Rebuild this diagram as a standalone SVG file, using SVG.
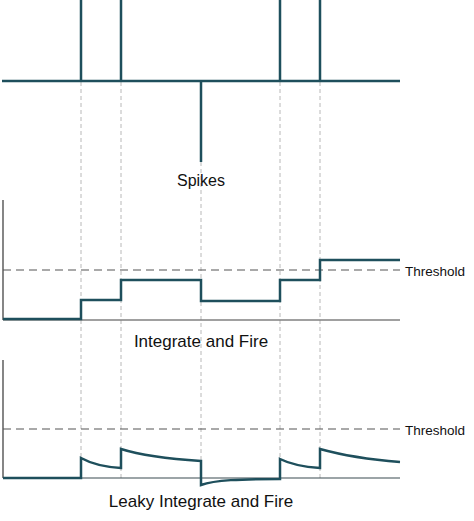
<svg xmlns="http://www.w3.org/2000/svg" width="474" height="521" viewBox="0 0 474 521">
<style>
.sig{fill:none;stroke:#1e4f5c;stroke-width:2.5;stroke-linejoin:miter;stroke-linecap:butt}
.guide{stroke:#b8b8b8;stroke-width:1;stroke-dasharray:4 3;fill:none}
.thr{stroke:#555;stroke-width:1.2;stroke-dasharray:8 5;fill:none}
.axis{stroke:#444;stroke-width:1.3;fill:none}
.lbl{font-family:"Liberation Sans",Arial,sans-serif;fill:#111;text-anchor:middle}
.th{font-family:"Liberation Sans",Arial,sans-serif;fill:#111;font-size:13.5px}
</style>
<rect width="474" height="521" fill="#fff"/>
<g id="guides">
<line class="guide" x1="81" y1="82" x2="81" y2="481"/>
<line class="guide" x1="121" y1="82" x2="121" y2="481"/>
<line class="guide" x1="201" y1="162" x2="201" y2="481"/>
<line class="guide" x1="280" y1="82" x2="280" y2="481"/>
<line class="guide" x1="320" y1="82" x2="320" y2="481"/>
</g>
<g id="spikes">
<path class="sig" d="M2,81 H400 M81,0 V81 M121,0 V81 M280,0 V81 M320,0 V81 M201,81 V162"/>
<text class="lbl" x="201" y="186" font-size="16">Spikes</text>
</g>
<g id="integrate-fire">
<line class="axis" x1="3" y1="200" x2="3" y2="320"/>
<line x1="3" y1="320" x2="400" y2="320" stroke="#808080" stroke-width="1.5"/>
<line class="thr" x1="3" y1="270" x2="400" y2="270"/>
<path class="sig" d="M3,319 H81 V300 H121 V280 H201 V301 H280 V280 H320 V260 H400"/>
<text class="th" x="405" y="276">Threshold</text>
<text class="lbl" x="201" y="347" font-size="17">Integrate and Fire</text>
</g>
<g id="leaky-integrate-fire">
<line class="axis" x1="3" y1="360" x2="3" y2="478"/>
<line x1="3" y1="478" x2="400" y2="478" stroke="#3a4a50" stroke-width="1.2"/>
<line class="thr" x1="3" y1="429" x2="400" y2="429"/>
<path class="sig" d="M3,478 H81 V458 C90,463 105,467 121,468 V449 C140,455 170,459 201,461 V485 C215,480 240,479 280,479 V459 C290,464 305,467 320,468 V449 C345,456 375,460 400,462"/>
<text class="th" x="405" y="435">Threshold</text>
<text class="lbl" x="201" y="507" font-size="17">Leaky Integrate and Fire</text>
</g>
</svg>
